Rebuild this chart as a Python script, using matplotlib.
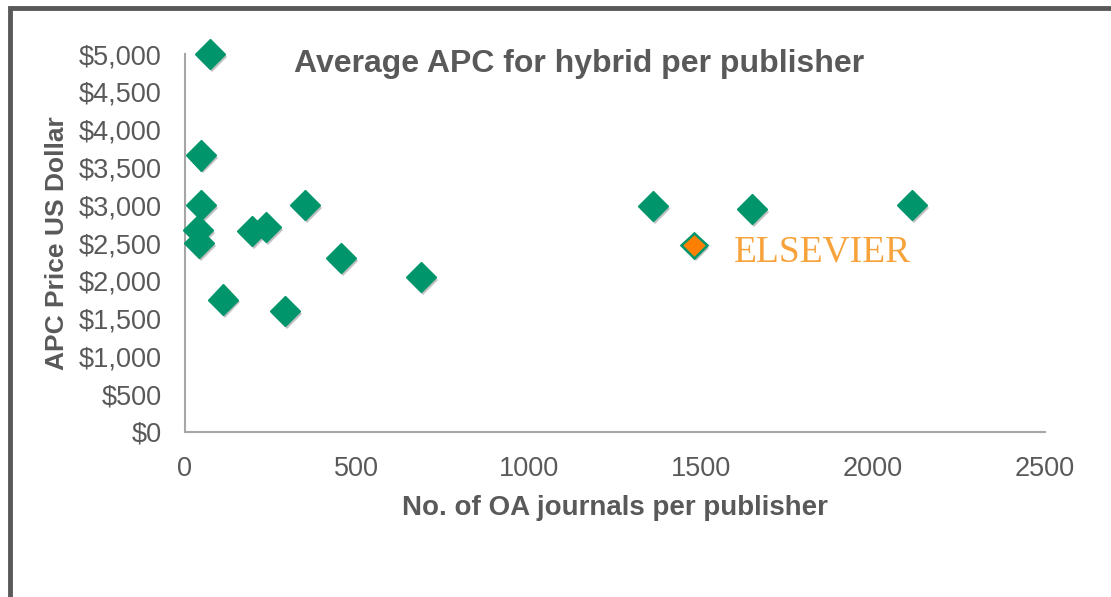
import matplotlib
matplotlib.use("Agg")
import matplotlib.pyplot as plt
import matplotlib.patheffects as pe
from matplotlib.patches import Rectangle
from matplotlib.ticker import FuncFormatter

# publishers: number of OA (hybrid) journals vs average APC in USD
journals = [73, 46, 46, 38, 41, 110, 195, 235, 349, 291, 453, 686, 1360, 1648, 2113]
apc = [5000, 3660, 3000, 2670, 2500, 1750, 2660, 2710, 3000, 1600, 2300, 2050, 2990, 2950, 3000]
elsevier_journals = [1480]
elsevier_apc = [2470]

GREEN = "#00956A"
ORANGE = "#FF8000"
GREY = "#595959"

fig = plt.figure(figsize=(11.11, 5.97), dpi=100)
ax = fig.add_axes([0.1665, 0.2764, 0.774, 0.6331])

shadow = [pe.SimplePatchShadow(offset=(1.5, -2), alpha=0.35, shadow_rgbFace="0.3"), pe.Normal()]
ax.plot(journals, apc, ls="none", marker="D", ms=15.5, color=GREEN,
        mec=GREEN, path_effects=shadow, zorder=3, clip_on=False)
ax.plot(elsevier_journals, elsevier_apc, ls="none", marker="D", ms=13,
        mfc=ORANGE, mec=GREEN, mew=1.8, path_effects=shadow, zorder=3, clip_on=False)
ax.text(elsevier_journals[0] + 115, elsevier_apc[0] - 90, "ELSEVIER", family="Liberation Serif",
        fontsize=27, color="#F7A23B", va="center", ha="left")

ax.set_xlim(0, 2500)
ax.set_ylim(0, 5000)
ax.set_xticks([0, 500, 1000, 1500, 2000, 2500])
ax.set_yticks(range(0, 5001, 500))
ax.yaxis.set_major_formatter(FuncFormatter(lambda v, p: f"${int(v):,}"))
ax.tick_params(length=0, labelsize=19.5, labelcolor=GREY)
ax.tick_params(axis="y", pad=17)
ax.tick_params(axis="x", pad=17)
for lab in ax.get_xticklabels() + ax.get_yticklabels():
    lab.set_family("Liberation Sans")
for s in ["top", "right"]:
    ax.spines[s].set_visible(False)
for s in ["left", "bottom"]:
    ax.spines[s].set_color("#A6A6A6")
    ax.spines[s].set_linewidth(1.5)

ax.set_xlabel("No. of OA journals per publisher", family="Liberation Sans",
              fontsize=20, fontweight="bold", color=GREY, labelpad=10)
ax.set_ylabel("APC Price US Dollar", family="Liberation Sans",
              fontsize=19, fontweight="bold", color=GREY, labelpad=7)
fig.text(0.521, 0.892, "Average APC for hybrid per publisher", family="Liberation Sans",
         fontsize=23, fontweight="bold", color=GREY, ha="center", va="center")

# slide frame
fig.patches.append(Rectangle((10 / 1111, -0.1), 1.2, 1.1 - 8 / 597, transform=fig.transFigure,
                             fill=False, ec=GREY, lw=3.5, zorder=10))

fig.savefig("out.png", dpi=100)
